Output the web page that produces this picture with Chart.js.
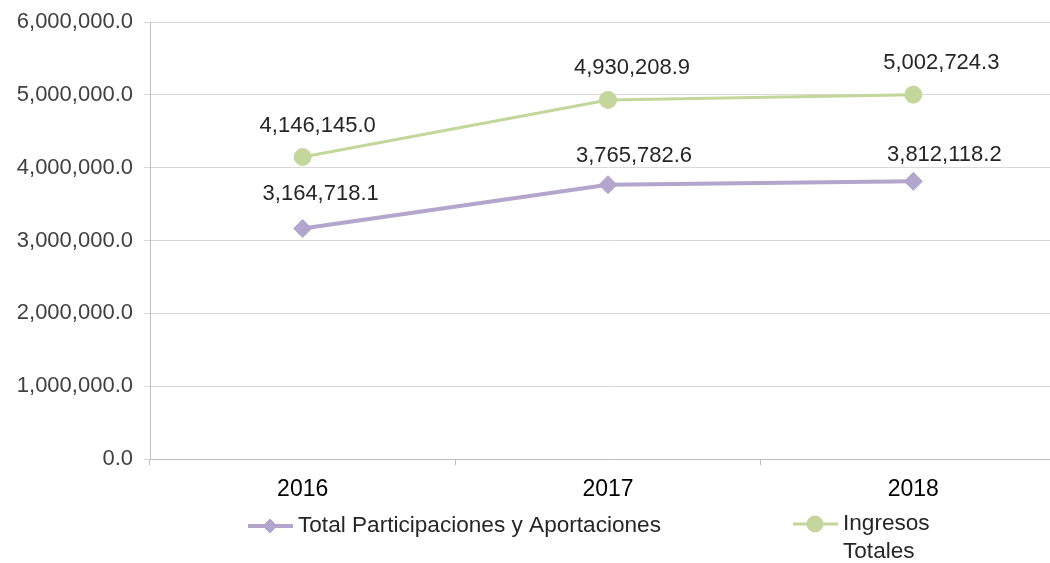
<!DOCTYPE html>
<html>
<head>
<meta charset="utf-8">
<script src="https://cdn.jsdelivr.net/npm/chart.js@4.4.1/dist/chart.umd.min.js"></script>
<style>
html,body{margin:0;padding:0;background:#fff;overflow:hidden;width:1050px;height:563px;}
#wrap{position:relative;width:1050px;height:563px;overflow:hidden;}
#c{position:absolute;left:0;top:0;display:block;}
</style>
</head>
<body>
<div id="wrap"><canvas id="c" width="1066" height="563" style="width:1066px;height:563px;"></canvas></div>
<script>
const categories = ['2016', '2017', '2018'];
const seriesNames = ['Total Participaciones y Aportaciones', 'Ingresos Totales'];
const totalParticipaciones = [3164718.1, 3765782.6, 3812118.2];
const ingresosTotales = [4146145.0, 4930208.9, 5002724.3];
const yTicks = [0, 1000000, 2000000, 3000000, 4000000, 5000000, 6000000];

// label placement (style only): [dx, dy] from each point, per series
const labelOffsets = [
  [[18, -35], [26, -29], [31, -26]],
  [[15, -31], [24, -32], [28, -32]]
];

const PURPLE = '#b3a5cc';
const GREEN = '#c3d69b';
const FONT = "'Liberation Sans', Arial, sans-serif";

function fmt(v) {
  return v.toLocaleString('en-US', {minimumFractionDigits: 1, maximumFractionDigits: 1});
}

const dataLabels = {
  id: 'dataLabels',
  afterDatasetsDraw(chart) {
    const ctx = chart.ctx;
    ctx.save();
    ctx.font = '22px ' + FONT;
    ctx.fillStyle = '#262626';
    ctx.textAlign = 'center';
    ctx.textBaseline = 'middle';
    chart.data.datasets.forEach((ds, i) => {
      const meta = chart.getDatasetMeta(i);
      meta.data.forEach((pt, j) => {
        const o = labelOffsets[i][j];
        ctx.fillText(fmt(ds.data[j]), pt.x + o[0], pt.y + o[1]);
      });
    });
    ctx.restore();
  }
};

const customLegend = {
  id: 'customLegend',
  afterDraw(chart) {
    const ctx = chart.ctx;
    ctx.save();
    ctx.font = '22.6px ' + FONT;
    ctx.textBaseline = 'middle';
    ctx.textAlign = 'left';
    const items = [
      {ds: 0, x: 248, y: 526, r: 7, lines: [seriesNames[0]]},
      {ds: 1, x: 793, y: 524, r: 8, lines: ['Ingresos', 'Totales']}
    ];
    items.forEach(it => {
      const ds = chart.data.datasets[it.ds];
      ctx.strokeStyle = ds.borderColor;
      ctx.lineWidth = ds.borderWidth;
      ctx.beginPath();
      ctx.moveTo(it.x, it.y);
      ctx.lineTo(it.x + 45, it.y);
      ctx.stroke();
      ctx.fillStyle = ds.pointBackgroundColor;
      ctx.strokeStyle = ds.pointBorderColor;
      ctx.lineWidth = 1;
      Chart.helpers.drawPoint(ctx, {pointStyle: ds.pointStyle, radius: it.r, borderWidth: 1, rotation: 0}, it.x + 22, it.y);
      ctx.fillStyle = '#262626';
      it.lines.forEach((t, k) => ctx.fillText(t, it.x + 50, it.y + k * 28));
    });
    ctx.restore();
  }
};

new Chart(document.getElementById('c'), {
  type: 'line',
  data: {
    labels: categories,
    datasets: [
      {
        label: seriesNames[0],
        data: totalParticipaciones,
        borderColor: PURPLE,
        backgroundColor: PURPLE,
        pointBackgroundColor: PURPLE,
        pointBorderColor: PURPLE,
        borderWidth: 4,
        pointStyle: 'rectRot',
        pointRadius: 9,
        pointBorderWidth: 1,
        pointHoverRadius: 9,
        tension: 0
      },
      {
        label: seriesNames[1],
        data: ingresosTotales,
        borderColor: GREEN,
        backgroundColor: GREEN,
        pointBackgroundColor: GREEN,
        pointBorderColor: GREEN,
        borderWidth: 3,
        pointStyle: 'circle',
        pointRadius: 8.5,
        pointBorderWidth: 1,
        pointHoverRadius: 8.5,
        tension: 0
      }
    ]
  },
  options: {
    responsive: false,
    animation: false,
    events: [],
    layout: {autoPadding: false, padding: {top: 22, right: 0, left: 0, bottom: 0}},
    plugins: {legend: {display: false}, tooltip: {enabled: false}},
    scales: {
      x: {
        offset: true,
        afterFit(s) { s.height = 104; s.paddingLeft = 0; s.paddingRight = 0; },
        grid: {display: true, offset: true, drawOnChartArea: false, drawTicks: true, tickLength: 6, color: '#bfbfbf'},
        border: {display: true, color: '#bfbfbf', width: 1},
        ticks: {color: '#000', font: {family: FONT, size: 23}, padding: 11}
      },
      y: {
        min: 0,
        max: 6000000,
        afterFit(s) { s.width = 150; s.paddingTop = 0; s.paddingBottom = 0; },
        afterBuildTicks(s) { s.ticks = yTicks.map(v => ({value: v})); },
        grid: {color: '#d9d9d9', drawTicks: true, tickLength: 6, lineWidth: 1},
        border: {display: true, color: '#bfbfbf', width: 1},
        ticks: {color: '#404040', font: {family: FONT, size: 22}, padding: 11, callback: v => fmt(v)}
      }
    }
  },
  plugins: [dataLabels, customLegend]
});
</script>
</body>
</html>
